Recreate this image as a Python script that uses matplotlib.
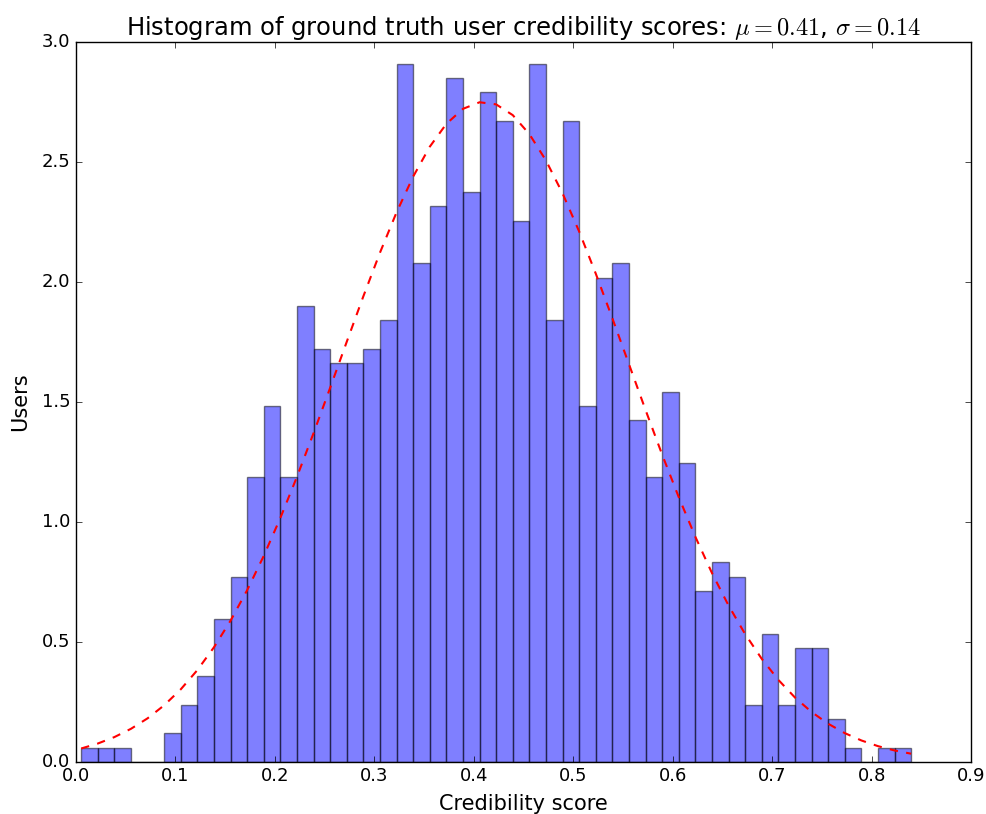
import numpy as np
import matplotlib
matplotlib.use("Agg")
import matplotlib.pyplot as plt

plt.style.use("classic")

# histogram: 50 bins, counts per bin
bin_lo = 0.0052
bin_hi = 0.8396
counts = [1, 1, 1, 0, 0, 2, 4, 6, 10, 13,
          20, 25, 20, 32, 29, 28, 28, 29, 31, 49,
          35, 39, 48, 40, 47, 45, 38, 49, 31, 45,
          25, 34, 35, 24, 20, 26, 21, 12, 14, 13,
          4, 9, 4, 8, 8, 3, 1, 0, 1, 1]
mu = 0.41
sigma = 0.145

edges = np.linspace(bin_lo, bin_hi, len(counts) + 1)
centers = 0.5 * (edges[:-1] + edges[1:])

fig = plt.figure(figsize=(9.87, 8.14), dpi=100)
ax = fig.add_axes([0.077, 0.064, 0.907, 0.884])

ax.hist(centers, bins=edges, weights=counts, density=True,
        facecolor="blue", edgecolor="black", alpha=0.5)

# normal fit evaluated at the bin edges
pdf = np.exp(-0.5 * ((edges - mu) / sigma) ** 2) / (sigma * np.sqrt(2 * np.pi))
ax.plot(edges, pdf, "r--", linewidth=1.5)

ax.set_xlim(0, 0.9)
ax.set_ylim(0, 3.0)
ax.set_xticks(np.arange(0, 0.91, 0.1))
ax.set_yticks(np.arange(0, 3.01, 0.5))
ax.tick_params(labelsize=13)
ax.set_xlabel("Credibility score", fontsize=15, labelpad=6)
ax.set_ylabel("Users", fontsize=15, labelpad=8)
ax.set_title(r"Histogram of ground truth user credibility scores: $\mu=0.41$, $\sigma=0.14$",
             fontsize=17.5, pad=5)

fig.savefig("out.png", dpi=100)
